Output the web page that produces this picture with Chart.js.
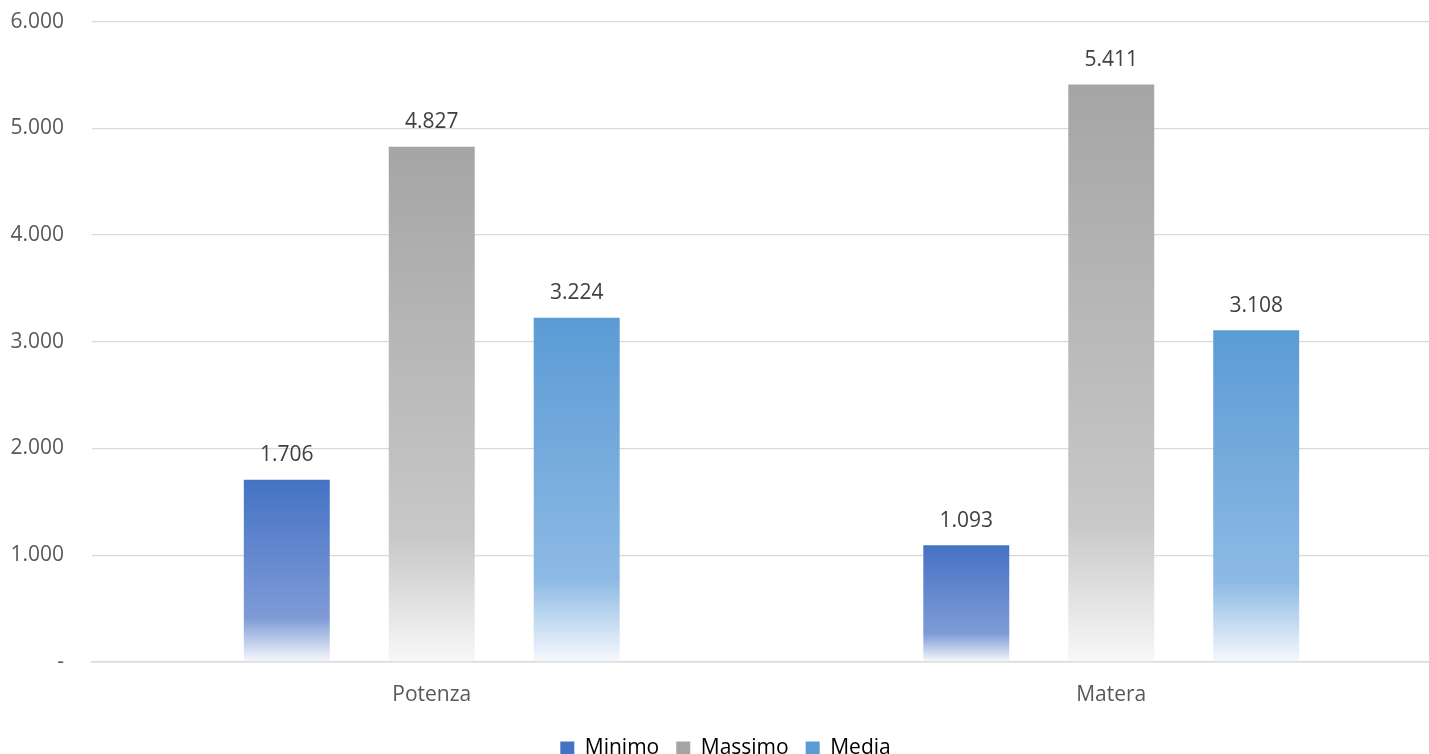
<!DOCTYPE html>
<html>
<head>
<meta charset="utf-8">
<script src="https://cdn.jsdelivr.net/npm/chart.js@4"></script>
<style>
  html, body { margin: 0; padding: 0; background: #fff; overflow: hidden; }
  #wrap { position: absolute; left: 0; top: -19px; width: 1451px; height: 788px; }
</style>
</head>
<body>
<div id="wrap"><canvas id="Graph"></canvas></div>
<script>
const categories = ['Potenza', 'Matera'];
const minimo = [1706, 1093];
const massimo = [4827, 5411];
const media = [3224, 3108];
const yTicks = [0, 1000, 2000, 3000, 4000, 5000, 6000];

// thousands with a dot, zero shown as a dash (Excel accounting style)
function fmt(v) {
    if (v === 0) return '-';
    return String(Math.round(v)).replace(/\B(?=(\d{3})+(?!\d))/g, '.');
}

// each bar fades from its colour at the top to white at the base
function fade(top, mid, end) {
    return function (c) {
        const chart = c.chart;
        if (!chart.chartArea || c.type !== 'data') return top;
        const y = chart.scales.y;
        const y0 = y.getPixelForValue(c.raw);
        const y1 = y.getPixelForValue(0);
        const g = chart.ctx.createLinearGradient(0, y0, 0, y1);
        g.addColorStop(0, top);
        g.addColorStop(0.76, mid);
        g.addColorStop(1, end);
        return g;
    };
}

const valueLabels = {
    id: 'valueLabels',
    afterDatasetsDraw(chart) {
        const ctx = chart.ctx;
        ctx.save();
        ctx.font = '21px "Open Sans"';
        ctx.fillStyle = '#404040';
        ctx.textAlign = 'center';
        ctx.textBaseline = 'bottom';
        chart.data.datasets.forEach((ds, i) => {
            chart.getDatasetMeta(i).data.forEach((bar, j) => {
                ctx.fillText(fmt(ds.data[j]), bar.x, bar.y - 14);
            });
        });
        ctx.restore();
    }
};

const ctx = document.getElementById('Graph');

new Chart(ctx, {
    type: 'bar',
    data: {
        labels: categories,
        datasets: [
            {
                label: 'Minimo',
                data: minimo,
                backgroundColor: fade('#4472c4', '#7f9bd6', '#f6f8fd')
            },
            {
                label: 'Massimo',
                data: massimo,
                backgroundColor: fade('#a5a5a5', '#c8c8c8', '#f8f8f8')
            },
            {
                label: 'Media',
                data: media,
                backgroundColor: fade('#5b9bd5', '#8dbae4', '#f6f9fd')
            }
        ]
    },
    options: {
        responsive: true,
        maintainAspectRatio: false,
        animation: false,
        datasets: {
            bar: { categoryPercentage: 0.64, barPercentage: 0.593 }
        },
        layout: { padding: { left: 0, right: 0, top: 3, bottom: 0 } },
        plugins: {
            tooltip: { enabled: false },
            legend: {
                position: 'bottom',
                labels: {
                    boxWidth: 14,
                    boxHeight: 14,
                    padding: 17,
                    color: '#595959',
                    font: { family: 'Open Sans', size: 21 },
                    generateLabels(chart) {
                        const cols = ['#4472c4', '#a5a5a5', '#5b9bd5'];
                        return chart.data.datasets.map((ds, i) => ({
                            text: ds.label,
                            fillStyle: cols[i],
                            strokeStyle: cols[i],
                            lineWidth: 0,
                            datasetIndex: i
                        }));
                    }
                }
            }
        },
        scales: {
            x: {
                grid: { display: false },
                border: { display: true, color: '#d9d9d9', width: 1.5 },
                ticks: {
                    color: '#595959',
                    padding: 13,
                    font: { family: 'Open Sans', size: 21 }
                }
            },
            y: {
                min: 0,
                max: 6000,
                afterBuildTicks(scale) {
                    scale.ticks = yTicks.map(v => ({ value: v }));
                },
                afterFit(scale) { scale.width = 92; },
                grid: { color: '#d9d9d9', lineWidth: 1.2, drawTicks: false },
                border: { display: false },
                ticks: {
                    color: '#595959',
                    padding: 28,
                    font: { family: 'Open Sans', size: 21 },
                    callback: v => fmt(v)
                }
            }
        }
    },
    plugins: [valueLabels]
});
</script>
</body>
</html>
